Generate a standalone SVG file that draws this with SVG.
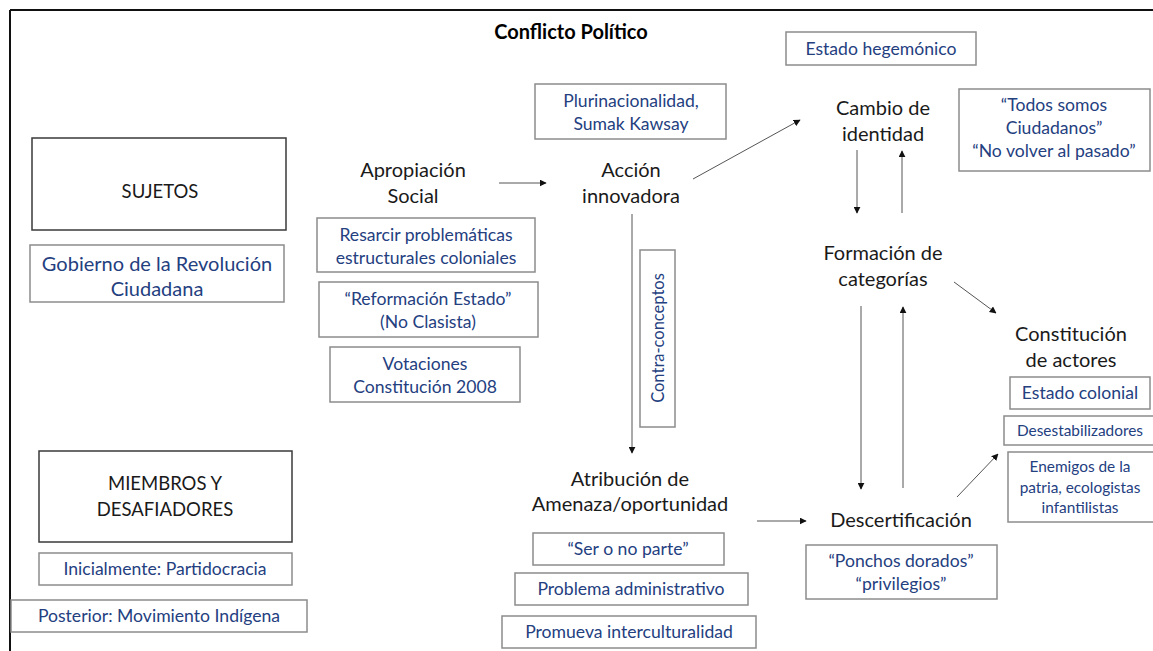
<svg xmlns="http://www.w3.org/2000/svg" width="1153" height="651" viewBox="0 0 1153 651">
<defs>
<style>
.lbl{font-family:Lato,"Liberation Sans",sans-serif;font-size:20px;fill:#1a1a1a;text-anchor:middle}
.cap{font-size:18.5px}
.ttl{font-family:Lato,"Liberation Sans",sans-serif;font-size:20px;font-weight:bold;fill:#000;text-anchor:middle}
.blu{font-family:Lato,"Liberation Sans",sans-serif;font-size:17.6px;fill:#24407f;text-anchor:middle}
.sm{font-size:15.4px}
.gb{fill:#fff;stroke:#8c8c8c;stroke-width:1.5}
.kb{fill:#fff;stroke:#3a3a3a;stroke-width:1.5}
.cn{stroke:#555;stroke-width:1;fill:none;marker-end:url(#ah)}
</style>
<marker id="ah" viewBox="0 0 10 10" refX="9" refY="5" markerWidth="7" markerHeight="7" markerUnits="userSpaceOnUse" orient="auto">
<path d="M0,0 L10,5 L0,10 z" fill="#111"/>
</marker>
</defs>
<rect width="1153" height="651" fill="#fff"/>
<g id="frame">
<line x1="10" y1="10" x2="1153" y2="10" stroke="#111" stroke-width="2"/>
<line x1="10" y1="10" x2="10" y2="651" stroke="#111" stroke-width="2"/>
</g>
<text class="ttl" x="571" y="39">Conflicto Político</text>

<g id="connectors">
<line class="cn" x1="499" y1="183" x2="546" y2="183"/>
<line class="cn" x1="693" y1="179" x2="800" y2="120"/>
<line class="cn" x1="632" y1="214" x2="632" y2="453"/>
<line class="cn" x1="857" y1="150" x2="857" y2="213"/>
<line class="cn" x1="902" y1="213" x2="902" y2="151"/>
<line class="cn" x1="954" y1="282" x2="996" y2="313"/>
<line class="cn" x1="861" y1="306" x2="861" y2="489"/>
<line class="cn" x1="903" y1="488" x2="903" y2="307"/>
<line class="cn" x1="757" y1="521" x2="806" y2="521"/>
<line class="cn" x1="957" y1="497" x2="998" y2="454"/>
</g>

<g id="sujetos"><rect class="kb" x="32" y="138" width="254" height="92"/><text class="lbl cap" x="160" y="198">SUJETOS</text></g>
<g id="gobierno"><rect class="gb" x="30" y="245" width="254" height="57"/><text class="blu" style="font-size:20px" x="157" y="271">Gobierno de la Revolución</text><text class="blu" style="font-size:20px" x="157" y="296">Ciudadana</text></g>

<g id="miembros"><rect class="kb" x="39" y="451" width="253" height="91"/><text class="lbl cap" x="165" y="490">MIEMBROS Y</text><text class="lbl cap" x="165" y="516">DESAFIADORES</text></g>
<g id="inicialmente"><rect class="gb" x="39" y="553" width="253" height="32"/><text class="blu" x="165" y="575">Inicialmente: Partidocracia</text></g>
<g id="posterior"><rect class="gb" x="11" y="600" width="296" height="32"/><text class="blu" x="159" y="622">Posterior: Movimiento Indígena</text></g>

<g id="apropiacion"><text class="lbl" x="413" y="177">Apropiación</text><text class="lbl" x="413" y="203">Social</text></g>
<g id="resarcir"><rect class="gb" x="317" y="218" width="218" height="54"/><text class="blu" x="426" y="241">Resarcir problemáticas</text><text class="blu" x="426" y="264">estructurales coloniales</text></g>
<g id="reformacion"><rect class="gb" x="319" y="282" width="219" height="55"/><text class="blu" x="428" y="305">“Reformación Estado”</text><text class="blu" x="428" y="328">(No Clasista)</text></g>
<g id="votaciones"><rect class="gb" x="330" y="347" width="190" height="55"/><text class="blu" x="425" y="370">Votaciones</text><text class="blu" x="425" y="393">Constitución 2008</text></g>

<g id="pluri"><rect class="gb" x="535" y="84" width="191" height="55"/><text class="blu" x="631" y="107">Plurinacionalidad,</text><text class="blu" x="631" y="130">Sumak Kawsay</text></g>
<g id="accion"><text class="lbl" x="631" y="177">Acción</text><text class="lbl" x="631" y="203">innovadora</text></g>
<g id="contra"><rect class="gb" x="640" y="250" width="35" height="177"/><text class="blu" style="font-size:16.5px" transform="translate(664,338) rotate(-90)" x="0" y="0">Contra-conceptos</text></g>

<g id="atribucion"><text class="lbl" x="630" y="486">Atribución de</text><text class="lbl" x="630" y="511">Amenaza/oportunidad</text></g>
<g id="ser"><rect class="gb" x="533" y="533" width="191" height="32"/><text class="blu" x="628" y="555">“Ser o no parte”</text></g>
<g id="problema"><rect class="gb" x="515" y="573" width="233" height="32"/><text class="blu" x="631" y="595">Problema administrativo</text></g>
<g id="promueva"><rect class="gb" x="502" y="616" width="254" height="32"/><text class="blu" x="629" y="638">Promueva interculturalidad</text></g>

<g id="hegemonico"><rect class="gb" x="786" y="32" width="190" height="33"/><text class="blu" x="881" y="55">Estado hegemónico</text></g>
<g id="cambio"><text class="lbl" x="883" y="115">Cambio de</text><text class="lbl" x="883" y="141">identidad</text></g>
<g id="todos"><rect class="gb" x="959" y="89" width="191" height="82"/><text class="blu" x="1054" y="111">“Todos somos</text><text class="blu" x="1054" y="134">Ciudadanos”</text><text class="blu" x="1054" y="157">“No volver al pasado”</text></g>
<g id="formacion"><text class="lbl" x="883" y="260">Formación de</text><text class="lbl" x="883" y="286">categorías</text></g>
<g id="constitucion"><text class="lbl" x="1071" y="341">Constitución</text><text class="lbl" x="1071" y="367">de actores</text></g>
<g id="colonial"><rect class="gb" x="1010" y="377" width="140" height="32"/><text class="blu" x="1080" y="399">Estado colonial</text></g>
<g id="desestab"><rect class="gb" x="1004" y="416" width="150" height="29"/><text class="blu sm" x="1080" y="436">Desestabilizadores</text></g>
<g id="enemigos"><rect class="gb" x="1008" y="452" width="146" height="70"/><text class="blu sm" x="1080" y="472">Enemigos de la</text><text class="blu sm" x="1080" y="493">patria, ecologistas</text><text class="blu sm" x="1080" y="513">infantilistas</text></g>
<g id="descert"><text class="lbl" x="901" y="527">Descertificación</text></g>
<g id="ponchos"><rect class="gb" x="806" y="545" width="191" height="54"/><text class="blu" x="901" y="567">“Ponchos dorados”</text><text class="blu" x="901" y="590">“privilegios”</text></g>
</svg>
